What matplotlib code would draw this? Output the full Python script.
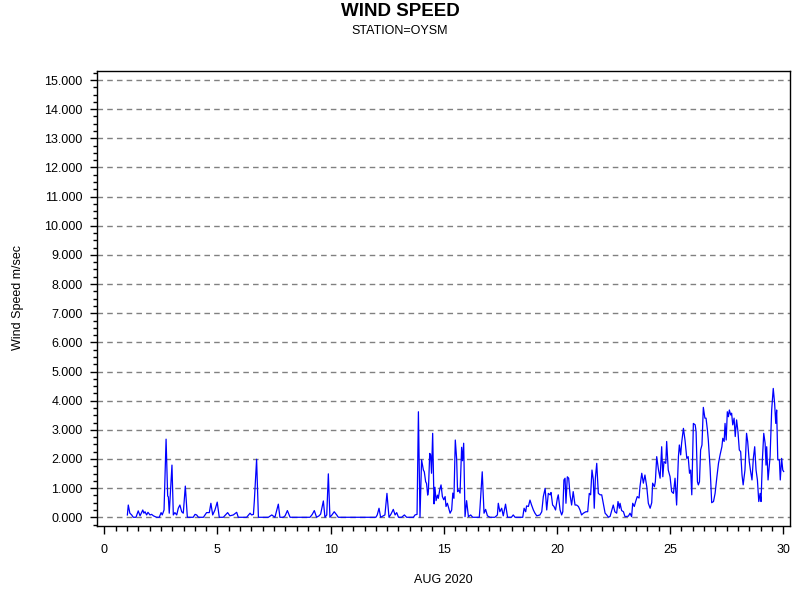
import matplotlib
matplotlib.use('Agg')
import matplotlib.pyplot as plt
from matplotlib.ticker import MultipleLocator, FormatStrFormatter

plt.rcParams['font.family'] = ['Liberation Sans', 'DejaVu Sans']

# 数据: 8月的日期(小数天) 和 风速 m/sec
day = [1.02, 1.06, 1.13, 1.21, 1.28, 1.40, 1.50, 1.58, 1.70, 1.75, 1.80, 1.87, 1.93, 2.02, 2.09, 2.17,
       2.31, 2.43, 2.51, 2.56, 2.64, 2.73, 2.80, 2.83, 2.87, 2.99, 3.05, 3.12, 3.20, 3.27, 3.34, 3.42,
       3.49, 3.58, 3.67, 3.93, 4.01, 4.08, 4.16, 4.38, 4.52, 4.64, 4.71, 4.79, 4.89, 4.99, 5.08, 5.26,
       5.45, 5.55, 5.70, 5.85, 5.92, 6.29, 6.44, 6.51, 6.59, 6.63, 6.73, 6.81, 7.25, 7.40, 7.54, 7.69,
       7.76, 7.91, 7.99, 8.09, 8.15, 8.21, 9.09, 9.19, 9.28, 9.38, 9.49, 9.56, 9.68, 9.75, 9.83, 9.90,
       9.97, 10.06, 10.16, 10.27, 10.34, 12.00, 12.06, 12.14, 12.21, 12.40, 12.49, 12.58, 12.67, 12.77,
       12.85, 12.92, 13.00, 13.14, 13.26, 13.36, 13.66, 13.73, 13.82, 13.88, 13.95, 14.02, 14.10, 14.14,
       14.20, 14.24, 14.29, 14.32, 14.38, 14.42, 14.46, 14.51, 14.57, 14.61, 14.66, 14.72, 14.76, 14.82,
       14.88, 14.94, 15.00, 15.06, 15.10, 15.16, 15.22, 15.28, 15.35, 15.40, 15.45, 15.51, 15.57, 15.61,
       15.66, 15.72, 15.79, 15.83, 15.88, 15.94, 16.01, 16.09, 16.19, 16.28, 16.57, 16.60, 16.70, 16.78,
       16.85, 16.93, 17.04, 17.26, 17.37, 17.41, 17.48, 17.56, 17.63, 17.73, 17.82, 17.99, 18.07, 18.15,
       18.49, 18.55, 18.62, 18.66, 18.74, 18.81, 18.88, 18.96, 19.03, 19.11, 19.25, 19.33, 19.40, 19.48,
       19.55, 19.62, 19.70, 19.74, 19.81, 19.87, 19.94, 20.02, 20.06, 20.14, 20.21, 20.26, 20.31, 20.36,
       20.40, 20.46, 20.52, 20.58, 20.65, 20.72, 20.80, 20.87, 20.95, 21.02, 21.09, 21.17, 21.28, 21.36,
       21.43, 21.49, 21.55, 21.61, 21.65, 21.70, 21.76, 21.83, 21.91, 21.98, 22.05, 22.13, 22.20, 22.28,
       22.35, 22.49, 22.56, 22.64, 22.70, 22.76, 22.79, 22.86, 22.94, 23.01, 23.16, 23.23, 23.30, 23.35,
       23.42, 23.48, 23.55, 23.63, 23.67, 23.75, 23.82, 23.89, 23.97, 24.04, 24.12, 24.19, 24.23, 24.31,
       24.35, 24.41, 24.49, 24.56, 24.63, 24.68, 24.73, 24.81, 24.85, 24.92, 25.00, 25.07, 25.15, 25.22,
       25.29, 25.37, 25.41, 25.47, 25.51, 25.59, 25.66, 25.74, 25.80, 25.86, 25.91, 25.96, 26.03, 26.11,
       26.15, 26.21, 26.25, 26.30, 26.35, 26.41, 26.47, 26.54, 26.59, 26.65, 26.69, 26.77, 26.84, 26.92,
       26.99, 27.07, 27.14, 27.21, 27.29, 27.33, 27.39, 27.43, 27.48, 27.53, 27.58, 27.62, 27.68, 27.72,
       27.77, 27.83, 27.88, 27.94, 28.00, 28.06, 28.12, 28.18, 28.23, 28.31, 28.38, 28.43, 28.50, 28.56,
       28.62, 28.68, 28.74, 28.80, 28.86, 28.92, 28.98, 29.02, 29.08, 29.14, 29.20, 29.24, 29.27, 29.33,
       29.42, 29.49, 29.56, 29.62, 29.67, 29.71, 29.76, 29.83, 29.87, 29.93, 29.98, 30.02]

speed = [0.08, 0.42, 0.14, 0.08, 0.00, 0.00, 0.22, 0.05, 0.25, 0.14, 0.19, 0.08, 0.17, 0.08, 0.10, 0.05,
         0.00, 0.00, 0.16, 0.08, 0.25, 2.68, 0.73, 0.70, 0.14, 1.79, 0.08, 0.16, 0.08, 0.31, 0.42, 0.19,
         0.14, 1.07, 0.00, 0.00, 0.10, 0.08, 0.00, 0.00, 0.16, 0.16, 0.48, 0.08, 0.25, 0.52, 0.00, 0.00,
         0.16, 0.05, 0.08, 0.17, 0.00, 0.00, 0.14, 0.08, 0.10, 0.56, 1.99, 0.00, 0.00, 0.08, 0.00, 0.45,
         0.00, 0.00, 0.05, 0.23, 0.11, 0.00, 0.00, 0.10, 0.23, 0.00, 0.05, 0.11, 0.56, 0.00, 0.08, 1.49,
         0.00, 0.08, 0.19, 0.08, 0.00, 0.00, 0.08, 0.31, 0.00, 0.08, 0.82, 0.00, 0.11, 0.27,
         0.08, 0.16, 0.00, 0.00, 0.08, 0.00, 0.00, 0.08, 0.10, 3.62, 0.00, 1.97, 1.62, 1.56,
         1.22, 1.16, 0.76, 0.88, 2.19, 2.14, 1.51, 2.88, 0.46, 1.03, 0.57, 0.76, 0.65, 0.94,
         1.11, 0.71, 0.60, 0.71, 0.37, 0.48, 0.31, 0.14, 0.25, 0.83, 0.65, 2.65, 2.00, 0.88,
         0.94, 0.83, 2.40, 1.94, 2.54, 0.02, 0.57, 0.02, 0.08, 0.00, 0.00, 0.31, 1.56, 0.14,
         0.27, 0.05, 0.00, 0.00, 0.08, 0.48, 0.19, 0.31, 0.05, 0.45, 0.00, 0.00, 0.08, 0.00,
         0.00, 0.31, 0.19, 0.39, 0.37, 0.59, 0.42, 0.25, 0.14, 0.05, 0.08, 0.19, 0.71, 0.99,
         0.25, 0.82, 0.77, 0.85, 0.42, 0.37, 0.25, 0.65, 0.77, 0.25, 0.08, 0.19, 1.28, 1.34,
         0.48, 1.39, 1.34, 0.77, 0.42, 0.88, 0.42, 0.42, 0.37, 0.25, 0.08, 0.14, 0.19, 0.19,
         0.82, 0.77, 1.62, 1.28, 0.31, 1.34, 1.85, 0.82, 0.77, 0.77, 0.48, 0.14, 0.08, 0.00,
         0.03, 0.42, 0.19, 0.14, 0.54, 0.31, 0.48, 0.23, 0.19, 0.02, 0.04, 0.14, 0.02, 0.48,
         0.37, 0.54, 0.71, 0.66, 1.05, 1.51, 1.17, 1.45, 1.05, 0.48, 0.31, 0.50, 1.17, 1.05,
         1.22, 2.08, 1.62, 1.34, 2.42, 1.39, 1.91, 1.85, 2.60, 1.62, 1.39, 0.88, 0.82, 1.34,
         0.42, 2.08, 2.48, 2.14, 2.54, 3.05, 2.65, 2.02, 2.08, 1.51, 1.62, 0.77, 3.22, 3.17,
         2.94, 1.22, 1.11, 1.22, 2.31, 2.48, 3.77, 3.40, 3.40, 3.00, 2.65, 1.68, 0.50, 0.54,
         0.82, 1.39, 1.85, 2.14, 2.42, 2.71, 2.60, 3.22, 2.65, 3.62, 3.45, 3.68, 3.51, 3.57,
         3.17, 3.40, 2.77, 3.34, 2.94, 2.31, 2.25, 1.45, 1.11, 1.62, 2.88, 2.60, 1.91, 1.57,
         1.28, 2.02, 2.42, 1.62, 1.28, 0.54, 0.82, 0.54, 1.97, 2.88, 2.54, 1.79, 2.42, 1.28,
         2.08, 3.68, 4.42, 3.91, 3.22, 3.68, 1.97, 1.97, 1.28, 2.02, 1.62, 1.57]

y_ticks = list(range(0, 16))


def draw_wind():
    fig = plt.figure(figsize=(8, 6), dpi=100)
    ax = fig.add_axes([0.1216, 0.1233, 0.8659, 0.7589])

    ax.plot(day, speed, color='#0000ff', lw=0.9)

    ax.set_xlim(-0.31, 30.3)
    ax.set_ylim(-0.3, 15.32)
    ax.xaxis.set_major_locator(MultipleLocator(5))
    ax.xaxis.set_minor_locator(MultipleLocator(0.5))
    ax.set_yticks(y_ticks)
    ax.yaxis.set_minor_locator(MultipleLocator(0.25))
    ax.yaxis.set_major_formatter(FormatStrFormatter('%.3f'))

    ax.grid(axis='y', which='major', color='#808080', ls=(0, (4, 3)), lw=1)
    ax.set_axisbelow(True)

    for s in ax.spines.values():
        s.set_linewidth(1)
        s.set_color('black')

    ax.tick_params(axis='x', which='major', length=6, width=1, pad=7, labelsize=9)
    ax.tick_params(axis='x', which='minor', length=3.6, width=1)
    ax.tick_params(axis='y', which='major', length=5, width=1, pad=5.5, labelsize=9)
    ax.tick_params(axis='y', which='minor', length=2.6, width=1)

    fig.text(0.5, 1 - 12 / 600, 'WIND SPEED', ha='center', va='center',
             fontsize=13.5, fontweight='bold')
    fig.text(0.5, 1 - 31 / 600, 'STATION=OYSM', ha='center', va='center', fontsize=9)
    fig.text(443.5 / 800, 1 - 580 / 600, 'AUG 2020', ha='center', va='center', fontsize=9)
    fig.text(18 / 800, 1 - 297 / 600, 'Wind Speed m/sec', ha='center', va='center',
             rotation=90, fontsize=9)

    fig.savefig('out.png', dpi=100)


if __name__ == '__main__':
    draw_wind()
